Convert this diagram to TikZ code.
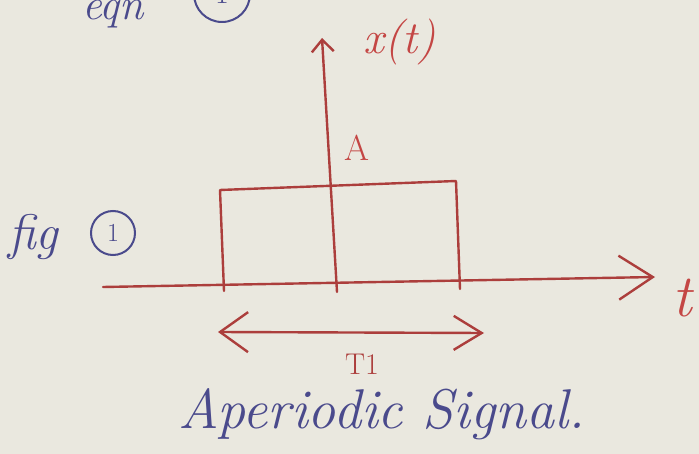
\documentclass[tikz,border=0pt]{standalone}
\usetikzlibrary{arrows.meta}
\definecolor{paper}{RGB}{234,232,223}
\definecolor{redpen}{RGB}{172,62,60}
\definecolor{redink}{RGB}{196,70,68}
\definecolor{bluepen}{RGB}{74,74,140}
\begin{document}
\begin{tikzpicture}[x=1pt,y=-1pt,
  pen/.style={draw=redpen, line width=2.4pt, line cap=round, line join=round},
  bigtip/.style={-{Straight Barb[length=34pt,width=44pt,line width=2.4pt]}},
  smalltip/.style={-{Straight Barb[length=12pt,width=22pt,line width=2.4pt]}},
  dbltip/.style={{Straight Barb[length=28pt,width=40pt,line width=2.4pt]}-{Straight Barb[length=28pt,width=34pt,line width=2.4pt]}},
  redtext/.style={text=redink, inner sep=0pt},
  bluetext/.style={text=bluepen, inner sep=0pt, font=\itshape\fontsize{44}{48}\selectfont}]
\fill[paper] (0,0) rectangle (699,454);
\useasboundingbox (0,0) rectangle (699,454);

% axes
\coordinate (ytop) at (322,38);
\coordinate (ybot) at (337,292);
\coordinate (xl) at (103,287);
\coordinate (xr) at (655,277);
\draw[pen,smalltip] (ybot) -- (ytop);
\draw[pen,bigtip] (xl) -- (xr);

% rectangular pulse
\coordinate (r1) at (224,291);
\coordinate (r2) at (220,190);
\coordinate (r3) at (456,181);
\coordinate (r4) at (460,289);
\draw[pen] (r1) -- (r2) -- (r3) -- (r4);

% duration arrow
\coordinate (dl) at (218,332);
\coordinate (dr) at (484,333);
\draw[pen,dbltip] (dl) -- (dr);

% labels
\node[redtext, font=\itshape\fontsize{46}{50}\selectfont] (xt) at (400,42) {x(t)};
\node[redtext, font=\fontsize{36}{40}\selectfont] (A) at (357,148) {A};
\node[redtext, font=\itshape\fontsize{60}{64}\selectfont] (t) at (682,298) {t};
\node[text=redpen, inner sep=0pt, font=\fontsize{30}{34}\selectfont] (T1) at (362,364) {T1};

\node[bluetext, font=\itshape\fontsize{56}{60}\selectfont] (ap) at (382,414) {Aperiodic Signal.};
\node[bluetext, anchor=base west, font=\itshape\fontsize{50}{54}\selectfont] (fig) at (8,250) {fig};
\node[draw=bluepen, line width=2pt, circle, minimum size=44pt, inner sep=0pt,
      text=bluepen, font=\fontsize{26}{30}\selectfont] (figc) at (113,233) {1};

\node[bluetext, anchor=base west] (eqn) at (82,20) {eqn};
\node[draw=bluepen, line width=2pt, circle, minimum size=56pt, inner sep=0pt,
      text=bluepen, font=\fontsize{30}{34}\selectfont] (eqc) at (222,-6) {1};
\end{tikzpicture}
\end{document}
